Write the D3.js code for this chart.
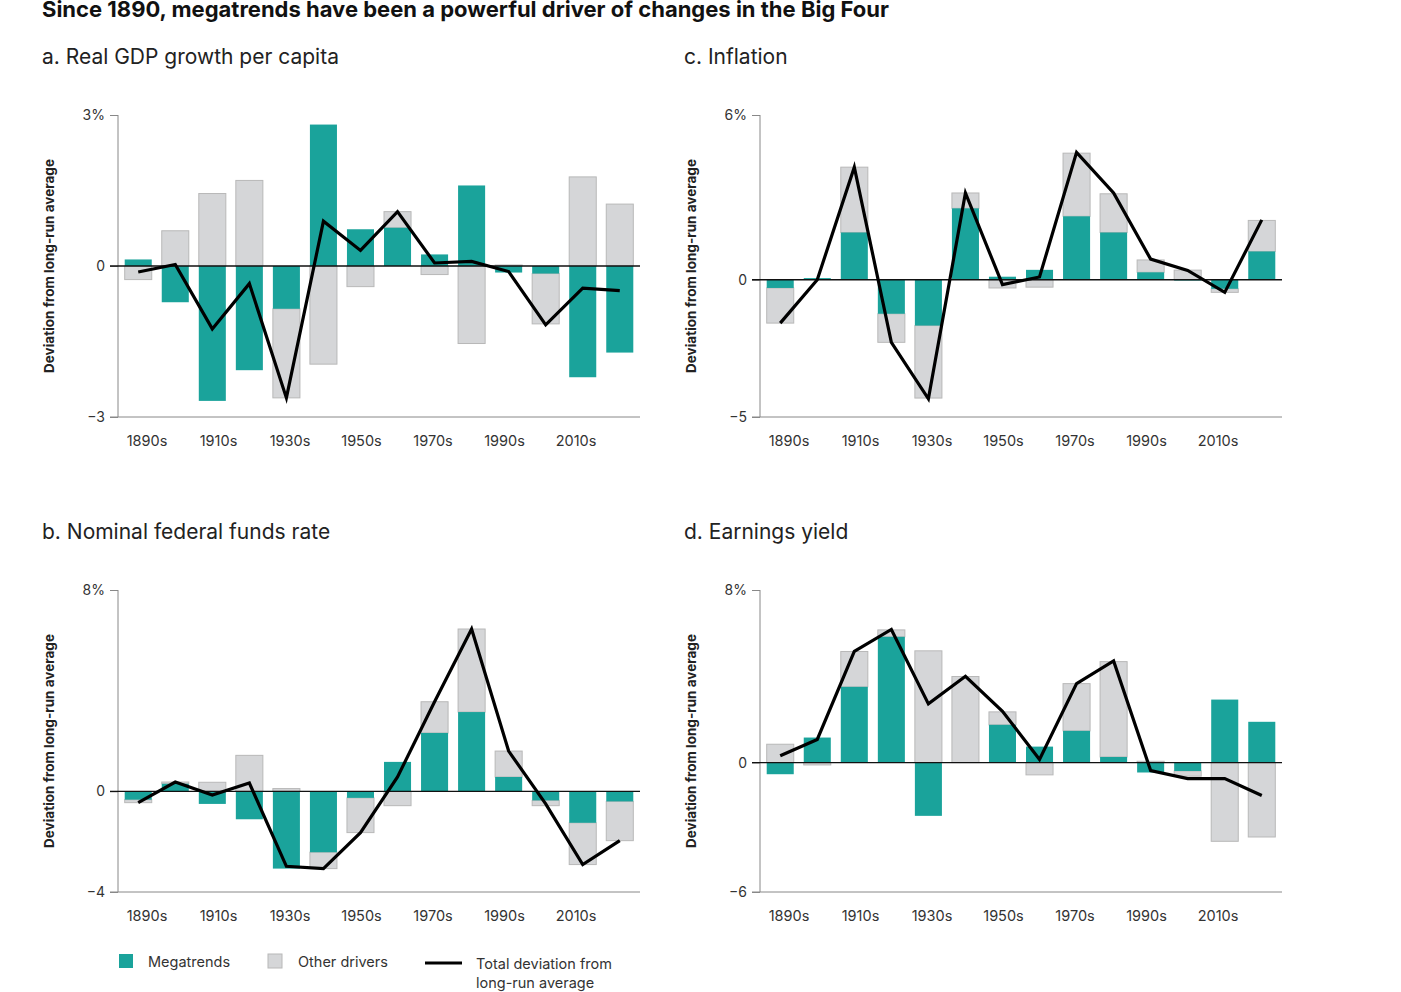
<!DOCTYPE html>
<html><head><meta charset="utf-8">
<script src="https://cdn.jsdelivr.net/npm/d3@7"></script>
<style>
body{margin:0;background:#fff;font-family:Inter,"Noto Sans",sans-serif;}
</style></head>
<body><svg width="1401" height="992"></svg>
<script>
const decades = ["1890s","1900s","1910s","1920s","1930s","1940s","1950s","1960s","1970s","1980s","1990s","2000s","2010s","2020s"];
const tickDecades = ["1890s","1910s","1930s","1950s","1970s","1990s","2010s"];

// a. Real GDP growth per capita
const gdpMega  = [0.13,-0.72,-2.68,-2.07,-0.85,2.81,0.73,0.76,0.23,1.60,-0.13,-0.15,-2.21,-1.72];
const gdpOther = [-0.27,0.70,1.44,1.70,-1.77,-1.95,-0.41,0.32,-0.17,-1.54,0.02,-1.00,1.77,1.23];
const gdpTotal = [-0.12,0.03,-1.25,-0.35,-2.62,0.89,0.31,1.08,0.06,0.09,-0.11,-1.17,-0.44,-0.49];
// c. Inflation
const infMega  = [-0.30,0.06,1.72,-1.24,-1.67,2.60,0.11,0.36,2.31,1.72,0.27,-0.03,-0.33,1.03];
const infOther = [-1.28,0,2.38,-1.04,-2.64,0.56,-0.30,-0.27,2.30,1.41,0.45,0.35,-0.13,1.13];
const infTotal = [-1.58,0,4.10,-2.28,-4.34,3.16,-0.18,0.10,4.64,3.16,0.75,0.34,-0.46,2.18];
// b. Nominal federal funds rate
const ffrMega  = [-0.33,0.30,-0.50,-1.11,-3.07,-2.42,-0.26,1.17,2.32,3.15,0.57,-0.36,-1.25,-0.40];
const ffrOther = [-0.12,0.07,0.36,1.43,0.11,-0.65,-1.38,-0.57,1.24,3.30,1.03,-0.21,-1.66,-1.56];
const ffrTotal = [-0.45,0.37,-0.15,0.33,-2.98,-3.07,-1.64,0.57,3.56,6.45,1.60,-0.50,-2.91,-1.96];
// d. Earnings yield
const eyMega  = [-0.54,1.16,3.51,5.83,-2.47,0,1.75,0.74,1.47,0.26,-0.46,-0.39,2.92,1.89];
const eyOther = [0.85,-0.11,1.64,0.32,5.18,3.99,0.60,-0.57,2.19,4.42,0.06,-0.24,-3.65,-3.45];
const eyTotal = [0.32,1.07,5.15,6.17,2.72,4.00,2.38,0.14,3.66,4.71,-0.37,-0.74,-0.74,-1.53];

const teal = "#1aa39b", grey = "#d5d6d8";
const svg = d3.select("svg");

svg.append("text").attr("x",42).attr("y",17).attr("font-size",22).attr("font-weight",700)
  .attr("fill","#111").text("Since 1890, megatrends have been a powerful driver of changes in the Big Four");

const panels = [
  {title:"a. Real GDP growth per capita", mega:gdpMega, other:gdpOther, total:gdpTotal, dom:[-3,3], ticks:[-3,0,3], top:3, x0:118, y0:115},
  {title:"c. Inflation", mega:infMega, other:infOther, total:infTotal, dom:[-5,6], ticks:[-5,0,6], top:6, x0:760, y0:115},
  {title:"b. Nominal federal funds rate", mega:ffrMega, other:ffrOther, total:ffrTotal, dom:[-4,8], ticks:[-4,0,8], top:8, x0:118, y0:590},
  {title:"d. Earnings yield", mega:eyMega, other:eyOther, total:eyTotal, dom:[-6,8], ticks:[-6,0,8], top:8, x0:760, y0:590}
];

panels.forEach(p => {
  const W = 522, H = 302;
  const g = svg.append("g").attr("transform",`translate(${p.x0},${p.y0})`);
  svg.append("text").attr("x",p.x0-76).attr("y",p.y0-51).attr("font-size",21).attr("fill","#222").text(p.title);

  const x = d3.scaleBand().domain(decades).range([3,W-3]).paddingInner(0.27).paddingOuter(0.1);
  const xl = d3.scalePoint().domain(tickDecades).range([29,458]);
  const y = d3.scaleLinear().domain(p.dom).range([H,0]);

  const ya = g.append("g").call(d3.axisLeft(y).tickValues(p.ticks).tickSize(8)
      .tickFormat(d => d===p.top ? d+"%" : (d<0 ? "\u2212"+(-d) : d)));
  ya.select(".domain").attr("stroke","#888").attr("d",`M0,0V${H}`);
  ya.selectAll(".tick line").attr("stroke","#888");
  ya.selectAll(".tick text").attr("font-size",14).attr("font-family","Inter,sans-serif").attr("fill","#333").attr("x",-13);
  g.append("line").attr("x1",-8).attr("x2",W).attr("y1",H).attr("y2",H).attr("stroke","#888");

  g.append("text").attr("transform",`translate(-64,${H/2}) rotate(-90)`).attr("text-anchor","middle")
    .attr("font-size",13.5).attr("font-weight",700).attr("fill","#222").text("Deviation from long-run average");

  const rows = decades.map((d,i)=>({d, m:p.mega[i], o:p.other[i]}));
  // other drivers: stacked on megatrend when same sign, else from zero
  g.selectAll(".oth").data(rows).join("rect")
    .attr("x",r=>x(r.d)).attr("width",x.bandwidth())
    .attr("y",r=>{const b = (r.o*r.m>0)?r.m:0; return y(Math.max(b,b+r.o));})
    .attr("height",r=>Math.abs(y(0)-y(r.o)))
    .attr("fill",grey).attr("stroke","#b8b8b8").attr("stroke-width",1);
  g.selectAll(".meg").data(rows).join("rect")
    .attr("x",r=>x(r.d)).attr("width",x.bandwidth())
    .attr("y",r=>y(Math.max(0,r.m))).attr("height",r=>Math.abs(y(0)-y(r.m)))
    .attr("fill",teal);

  g.append("line").attr("x1",-8).attr("x2",W).attr("y1",y(0)).attr("y2",y(0)).attr("stroke","#111").attr("stroke-width",1.3);

  g.append("path").datum(p.total)
    .attr("d",d3.line().x((v,i)=>x(decades[i])+x.bandwidth()/2).y(v=>y(v)))
    .attr("fill","none").attr("stroke","#000").attr("stroke-width",3.2).attr("stroke-linejoin","miter");

  g.selectAll(".xl").data(tickDecades).join("text")
    .attr("x",d=>xl(d)).attr("y",H+29).attr("text-anchor","middle")
    .attr("font-size",14.5).attr("fill","#333").text(d=>d);
});

// legend
const lg = svg.append("g").attr("font-size",14.5).attr("fill","#333");
lg.append("rect").attr("x",119).attr("y",954).attr("width",14).attr("height",14).attr("fill",teal);
lg.append("text").attr("x",148).attr("y",967).text("Megatrends");
lg.append("rect").attr("x",268).attr("y",954).attr("width",14).attr("height",14).attr("fill",grey).attr("stroke","#b8b8b8");
lg.append("text").attr("x",298).attr("y",967).text("Other drivers");
lg.append("line").attr("x1",425).attr("x2",462).attr("y1",963).attr("y2",963).attr("stroke","#000").attr("stroke-width",3);
lg.append("text").attr("x",476).attr("y",969).text("Total deviation from");
lg.append("text").attr("x",476).attr("y",988).text("long-run average");
</script></body></html>
